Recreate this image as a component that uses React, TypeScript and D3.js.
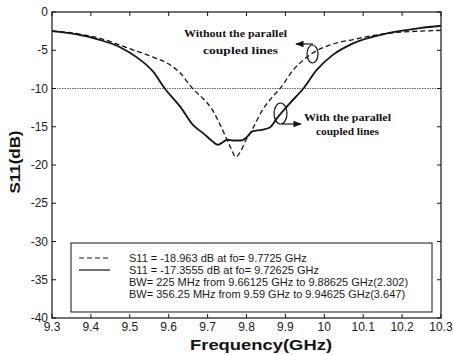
import * as d3 from "d3";

const freqWithout = [9.3, 9.36, 9.42, 9.5, 9.56, 9.6, 9.63, 9.66125, 9.69, 9.71, 9.73, 9.75, 9.76, 9.7725, 9.785, 9.8, 9.81, 9.84, 9.86, 9.88625, 9.92, 9.963, 10.015, 10.074, 10.161, 10.246, 10.3];
const s11Without = [-2.5, -2.8, -3.4, -4.8, -5.9, -6.8, -8.0, -10, -11.4, -12.6, -14.5, -16.7, -17.8, -18.963, -18.2, -16.6, -15.8, -12.9, -11.5, -10, -7.6, -5.6, -4.3, -3.6, -2.8, -2.5, -2.4];

const freqWith = [9.3, 9.36, 9.42, 9.475, 9.52, 9.56, 9.59, 9.63, 9.663, 9.69, 9.71, 9.72625, 9.74, 9.75, 9.765, 9.785, 9.8, 9.815, 9.84, 9.86, 9.878, 9.91, 9.94625, 9.98, 10.022, 10.074, 10.161, 10.246, 10.3];
const s11With = [-2.5, -2.9, -3.6, -4.6, -6.0, -7.8, -10, -12.4, -14.8, -15.9, -16.8, -17.3555, -17.0, -16.7, -16.8, -16.8, -16.4, -15.6, -15.4, -15.1, -13.9, -12.0, -10, -7.6, -5.6, -4.1, -2.8, -2.1, -1.8];

const xTicks = [9.3, 9.4, 9.5, 9.6, 9.7, 9.8, 9.9, 10, 10.1, 10.2, 10.3];
const xTickLabels = ["9.3", "9.4", "9.5", "9.6", "9.7", "9.8", "9.9", "10", "10.1", "10.2", "10.3"];
const yTicks = [0, -5, -10, -15, -20, -25, -30, -35, -40];

const legendLabels = [
  "S11 = -18.963 dB at fo= 9.7725 GHz",
  "S11 = -17.3555 dB at fo= 9.72625 GHz",
  "BW= 225 MHz from 9.66125 GHz to 9.88625 GHz(2.302)",
  "BW= 356.25 MHz from 9.59 GHz to 9.94625 GHz(3.647)",
];

const W = 454;
const H = 355;
const left = 52, right = 441, top = 12, bottom = 318;

export default function App() {
  const x = d3.scaleLinear().domain([9.3, 10.3]).range([left, right]);
  const y = d3.scaleLinear().domain([-40, 0]).range([bottom, top]);

  const line = d3
    .line<[number, number]>()
    .x((d) => x(d[0]))
    .y((d) => y(d[1]))
    .curve(d3.curveMonotoneX);

  const withoutPath = line(freqWithout.map((f, i) => [f, s11Without[i]]) as [number, number][]) || "";
  const withPath = line(freqWith.map((f, i) => [f, s11With[i]]) as [number, number][]) || "";

  const ink = "#141414";
  const sans = "Arial, 'Liberation Sans', sans-serif";
  const serif = "'Times New Roman', 'Liberation Serif', serif";

  return (
    <svg width={W} height={H} style={{ position: "absolute", left: 0, top: 0, background: "#fff" }}>
      <defs>
        <marker id="arr" viewBox="0 0 10 10" refX="9" refY="5" markerWidth="7" markerHeight="7" orient="auto-start-reverse">
          <path d="M0,1 L10,5 L0,9 z" fill={ink} />
        </marker>
      </defs>

      {/* -10 dB reference */}
      <line x1={left} x2={right} y1={y(-10)} y2={y(-10)} stroke="#666" strokeWidth={1} strokeDasharray="1.5,1" />

      {/* ticks */}
      {xTicks.map((t) => (
        <g key={"xt" + t}>
          <line x1={x(t)} x2={x(t)} y1={bottom} y2={bottom - 4} stroke={ink} />
          <line x1={x(t)} x2={x(t)} y1={top} y2={top + 4} stroke={ink} />
        </g>
      ))}
      {yTicks.map((t) => (
        <g key={"yt" + t}>
          <line x1={left} x2={left + 4} y1={y(t)} y2={y(t)} stroke={ink} />
          <line x1={right} x2={right - 4} y1={y(t)} y2={y(t)} stroke={ink} />
        </g>
      ))}

      {/* box */}
      <rect x={left} y={top} width={right - left} height={bottom - top} fill="none" stroke={ink} strokeWidth={1.2} />

      {/* tick labels */}
      {xTicks.map((t, i) => (
        <text key={"xl" + t} x={x(t)} y={bottom + 13} fontSize={12} fontFamily={sans} fill="#222" textAnchor="middle">
          {xTickLabels[i]}
        </text>
      ))}
      {yTicks.map((t) => (
        <text key={"yl" + t} x={left - 4} y={y(t) + 4} fontSize={12} fontFamily={sans} fill="#222" textAnchor="end">
          {t}
        </text>
      ))}

      {/* curves */}
      <path d={withoutPath} fill="none" stroke={ink} strokeWidth={1.3} strokeDasharray="5,3" />
      <path d={withPath} fill="none" stroke={ink} strokeWidth={1.8} />

      {/* annotations */}
      <text x={184} y={37} fontSize={10} fontWeight="bold" fontFamily={serif} fill={ink} textLength={103} lengthAdjust="spacingAndGlyphs">
        Without the parallel
      </text>
      <text x={203} y={54} fontSize={10} fontWeight="bold" fontFamily={serif} fill={ink} textLength={75} lengthAdjust="spacingAndGlyphs">
        coupled lines
      </text>
      <ellipse cx={312.5} cy={54} rx={5.5} ry={9} fill="none" stroke={ink} strokeWidth={1.2} />
      <line x1={313} y1={44} x2={296} y2={44} stroke={ink} strokeWidth={1.2} markerEnd="url(#arr)" />

      <text x={304} y={121} fontSize={10} fontWeight="bold" fontFamily={serif} fill={ink} textLength={87} lengthAdjust="spacingAndGlyphs">
        With the parallel
      </text>
      <text x={316} y={135} fontSize={10} fontWeight="bold" fontFamily={serif} fill={ink} textLength={63} lengthAdjust="spacingAndGlyphs">
        coupled lines
      </text>
      <ellipse cx={280.5} cy={113.5} rx={6.5} ry={10.5} fill="none" stroke={ink} strokeWidth={1.2} />
      <line x1={282} y1={124} x2={301} y2={124} stroke={ink} strokeWidth={1.2} markerEnd="url(#arr)" />

      {/* legend */}
      <rect x={71} y={243} width={361} height={69} fill="#fff" stroke={ink} strokeWidth={1} />
      <line x1={79} x2={110} y1={258} y2={258} stroke={ink} strokeWidth={1} strokeDasharray="5,3" />
      <line x1={79} x2={110} y1={270} y2={270} stroke={ink} strokeWidth={1.2} />
      {legendLabels.map((s, i) => (
        <text key={s} x={129} y={262 + i * 12} fontSize={11} fontFamily={sans} fill="#1a1a1a">
          {s}
        </text>
      ))}

      {/* axis titles */}
      <text x={261} y={350} fontSize={14} fontWeight="bold" fontFamily={sans} fill={ink} textAnchor="middle" textLength={142} lengthAdjust="spacingAndGlyphs">
        Frequency(GHz)
      </text>
      <text transform="translate(20,162) rotate(-90)" fontSize={14} fontWeight="bold" fontFamily={sans} fill={ink} textAnchor="middle" textLength={63} lengthAdjust="spacingAndGlyphs">
        S11(dB)
      </text>
    </svg>
  );
}
